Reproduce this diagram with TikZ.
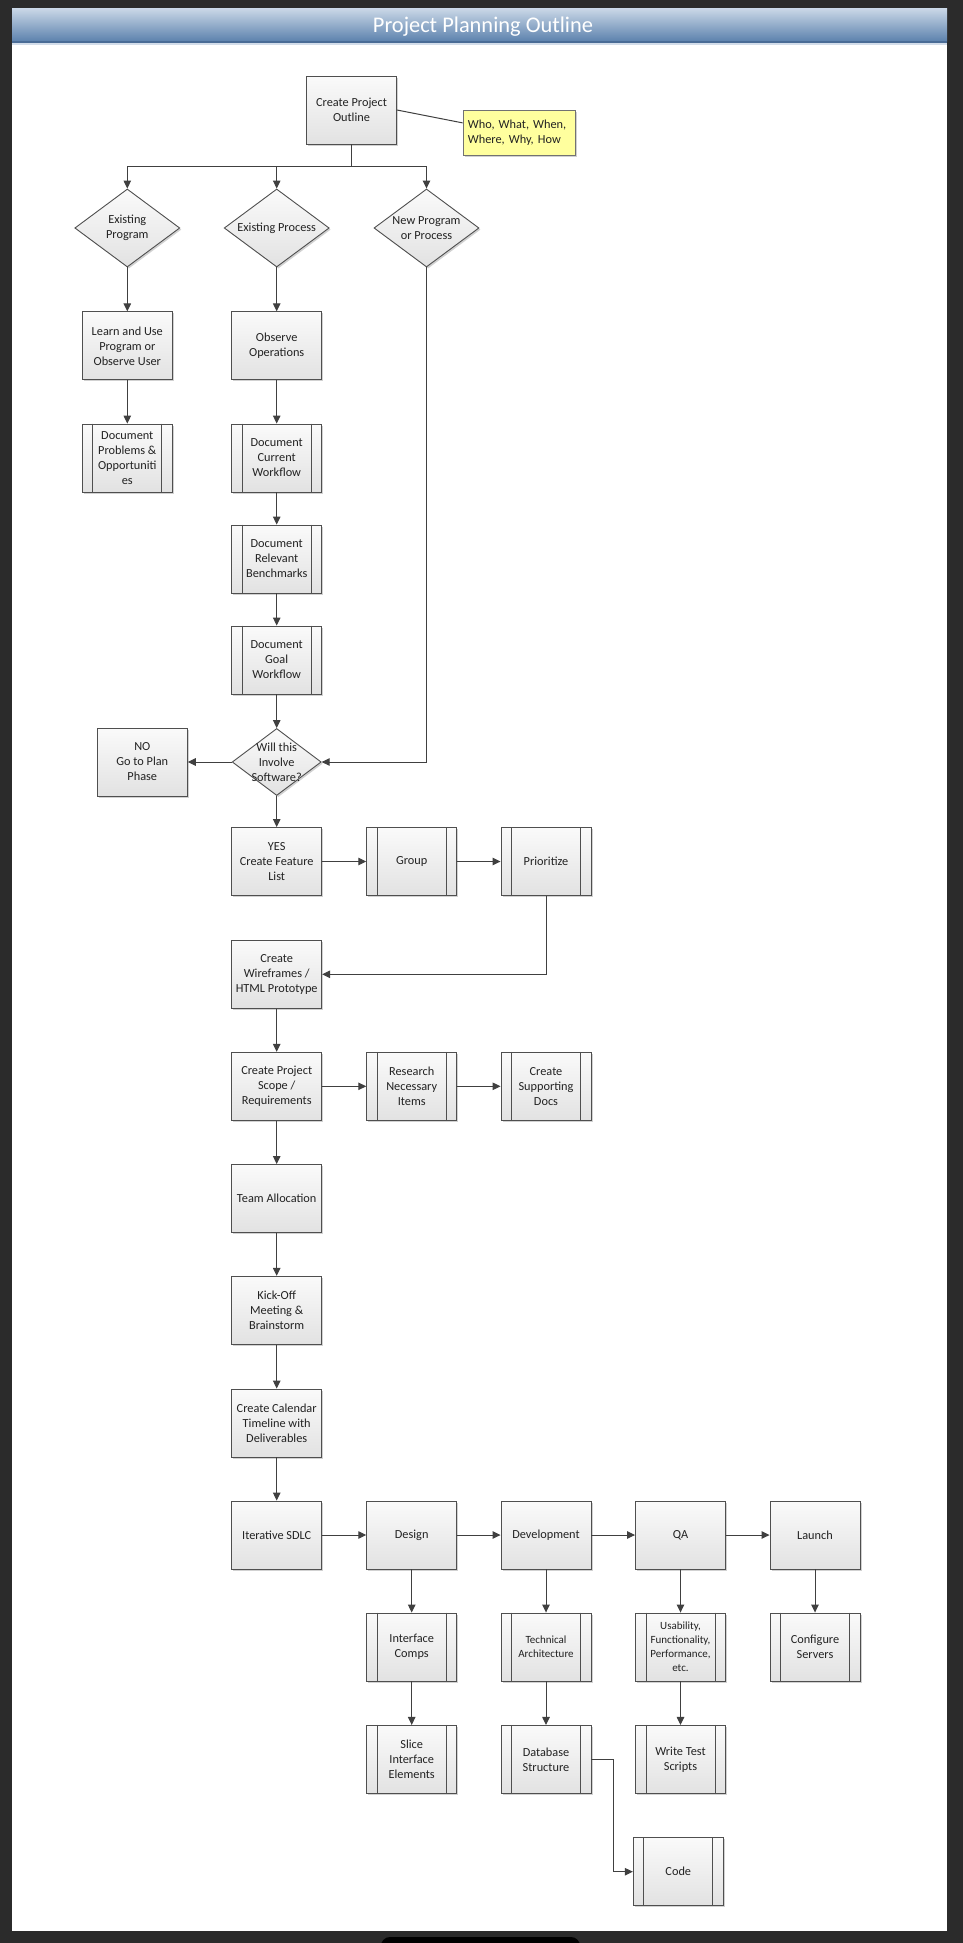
\documentclass[tikz,border=0pt]{standalone}
\usepackage{fontspec}
\setmainfont{Carlito}
\usetikzlibrary{shapes.geometric,arrows.meta,shadows,calc}
\definecolor{bg}{HTML}{2B2B2B}
\definecolor{ln}{HTML}{404040}
\definecolor{bordc}{HTML}{4F4F4F}
\definecolor{ftop}{HTML}{FAFAFA}
\definecolor{fbot}{HTML}{E2E2E2}
\definecolor{txt}{HTML}{222222}
\definecolor{notefill}{HTML}{FFFF9E}
\definecolor{titletop}{HTML}{C8D6E6}
\definecolor{titlebot}{HTML}{5A80AC}
\definecolor{titleline}{HTML}{4A6C96}
\definecolor{titlelight}{HTML}{D3DDEA}
\newcommand{\nfont}{\fontsize{12.3}{15}\selectfont}
\newcommand{\sfontx}{\fontsize{11}{13.9}\selectfont}
\tikzset{
  shad/.style={drop shadow={shadow xshift=1.6pt,shadow yshift=-1.6pt,fill=black,opacity=0.18}},
  box/.style={rectangle, draw=bordc, line width=0.9pt, top color=ftop, bottom color=fbot,
    minimum width=90pt, minimum height=68pt, inner sep=2pt, align=center, text=txt, font=\nfont, shad},
  predef/.style={box},
  innerline/.style={draw=bordc, line width=0.9pt},
  decision/.style={diamond, draw=bordc, line width=0.9pt, top color=ftop, bottom color=fbot,
    minimum width=105pt, minimum height=78pt, inner sep=0pt, shad},
  dtext/.style={align=center, font=\nfont, text=txt, inner sep=0pt},
  notebox/.style={rectangle, draw=bordc!80, line width=0.8pt, fill=notefill, minimum width=112.7pt,
    minimum height=45.7pt, text width=103pt, inner sep=4pt, align=left, font=\nfont, text=txt, shad},
  arr/.style={draw=ln, line width=1pt, -{Triangle[length=8pt,width=7.5pt]}},
  plain/.style={draw=ln, line width=1pt}
}
\begin{document}
\begin{tikzpicture}[x=1pt,y=-1pt]
\useasboundingbox (0,0) rectangle (963,1943);
\fill[bg] (0,0) rectangle (963,1943);
\fill[black, rounded corners=9pt] (381,1937) rectangle (580,1965);
\fill[white] (12,9) rectangle (947,1931);
\shade[top color=titletop,bottom color=titlebot] (12,9) rectangle (947,42);
\draw[titleline,line width=1.2pt] (12,42) -- (947,42);
\draw[titlelight,line width=1.5pt] (12,43.8) -- (947,43.8);
\node[text=white,font=\fontsize{22.4}{26}\selectfont] (title) at (483,27) {Project Planning Outline};

% top
\node[box] (outline) at (351.5,110) {Create Project\\Outline};
\node[notebox] (note) at (519.4,132.9) {Who, What, When,\\Where, Why, How};

\node[decision] (dprog) at (127.3,228) {};
\node[dtext] (dprogt) at (dprog) {Existing\\Program};
\node[decision] (dproc) at (276.7,228) {};
\node[dtext] (dproct) at (dproc) {Existing Process};
\node[decision] (dnew) at (426.5,228) {};
\node[dtext] (dnewt) at (dnew) {New Program\\or Process};

% column 1
\node[box] (learn) at (127.3,345.8) {Learn and Use\\Program or\\Observe User};
\node[predef] (docprob) at (127.3,458) {Document\\Problems \&\\Opportuniti\\es};

% column 2
\node[box] (obs) at (276.7,345.8) {Observe\\Operations};
\node[predef] (doccur) at (276.7,458) {Document\\Current\\Workflow};
\node[predef] (docbench) at (276.7,559) {Document\\Relevant\\Benchmarks};
\node[predef] (docgoal) at (276.7,660) {Document\\Goal\\Workflow};

\node[decision, minimum width=89pt, minimum height=67pt] (dsoft) at (276.7,762) {};
\node[dtext] (dsoftt) at (dsoft) {Will this\\Involve\\Software?};
\node[box] (no) at (142.3,762) {NO\\Go to Plan\\Phase};

\node[box] (yes) at (276.7,861.5) {YES\\Create Feature\\List};
\node[predef] (group) at (411.7,861.5) {Group};
\node[predef] (prior) at (546,861.5) {Prioritize};

\node[box] (wire) at (276.7,974.3) {Create\\Wireframes /\\HTML Prototype};

\node[box] (scope) at (276.7,1086.3) {Create Project\\Scope /\\Requirements};
\node[predef] (research) at (411.7,1086.3) {Research\\Necessary\\Items};
\node[predef] (supdocs) at (546,1086.3) {Create\\Supporting\\Docs};

\node[box] (team) at (276.7,1198.5) {Team Allocation};
\node[box] (kick) at (276.7,1310.3) {Kick-Off\\Meeting \&\\Brainstorm};
\node[box] (cal) at (276.7,1423) {Create Calendar\\Timeline with\\Deliverables};

\node[box] (sdlc) at (276.7,1535) {Iterative SDLC};
\node[box] (design) at (411.7,1535) {Design};
\node[box] (dev) at (546,1535) {Development};
\node[box] (qa) at (680.5,1535) {QA};
\node[box] (launch) at (815,1535) {Launch};

\node[predef] (icomps) at (411.7,1647) {Interface\\Comps};
\node[predef, font=\sfontx] (tech) at (546,1647) {Technical\\Architecture};
\node[predef, font=\sfontx] (usab) at (680.5,1647) {Usability,\\Functionality,\\Performance,\\etc.};
\node[predef] (config) at (815,1647) {Configure\\Servers};

\node[predef] (slice) at (411.7,1759.4) {Slice\\Interface\\Elements};
\node[predef] (db) at (546,1759.4) {Database\\Structure};
\node[predef] (wts) at (680.5,1759.4) {Write Test\\Scripts};

\node[predef] (code) at (678.3,1871.7) {Code};

% inner lines of predefined-process boxes
\foreach \n in {docprob,doccur,docbench,docgoal,group,prior,research,supdocs,icomps,tech,usab,config,slice,db,wts,code}{
  \draw[innerline] ([xshift=11pt]\n.north west) -- ([xshift=11pt]\n.south west)
                   ([xshift=-11pt]\n.north east) -- ([xshift=-11pt]\n.south east);
}

% connectors
\draw[plain] (outline.east) -- ($(note.west)+(0,-10)$);
\draw[plain] (outline.south) -- ++(0,22) coordinate (br);
\draw[arr] (br) -| (dprog.north);
\draw[arr] (br) -| (dproc.north);
\draw[arr] (br) -| (dnew.north);

\draw[arr] (dprog.south) -- (learn.north);
\draw[arr] (learn.south) -- (docprob.north);

\draw[arr] (dproc.south) -- (obs.north);
\draw[arr] (obs.south) -- (doccur.north);
\draw[arr] (doccur.south) -- (docbench.north);
\draw[arr] (docbench.south) -- (docgoal.north);
\draw[arr] (docgoal.south) -- (dsoft.north);

\draw[arr] (dnew.south) |- (dsoft.east);
\draw[arr] (dsoft.west) -- (no.east);
\draw[arr] (dsoft.south) -- (yes.north);

\draw[arr] (yes.east) -- (group.west);
\draw[arr] (group.east) -- (prior.west);
\draw[arr] (prior.south) |- (wire.east);

\draw[arr] (wire.south) -- (scope.north);
\draw[arr] (scope.east) -- (research.west);
\draw[arr] (research.east) -- (supdocs.west);
\draw[arr] (scope.south) -- (team.north);
\draw[arr] (team.south) -- (kick.north);
\draw[arr] (kick.south) -- (cal.north);
\draw[arr] (cal.south) -- (sdlc.north);

\draw[arr] (sdlc.east) -- (design.west);
\draw[arr] (design.east) -- (dev.west);
\draw[arr] (dev.east) -- (qa.west);
\draw[arr] (qa.east) -- (launch.west);

\draw[arr] (design.south) -- (icomps.north);
\draw[arr] (icomps.south) -- (slice.north);
\draw[arr] (dev.south) -- (tech.north);
\draw[arr] (tech.south) -- (db.north);
\draw[arr] (qa.south) -- (usab.north);
\draw[arr] (usab.south) -- (wts.north);
\draw[arr] (launch.south) -- (config.north);

\draw[arr] (db.east) -- ++(22,0) |- (code.west);
\end{tikzpicture}
\end{document}
